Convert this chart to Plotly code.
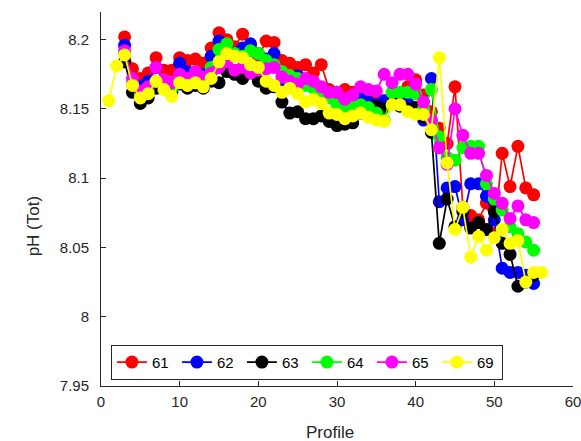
import plotly.graph_objects as go

profiles_a = list(range(3, 56))
profiles_y = list(range(1, 57))

ph_61 = [8.202, 8.179, 8.172, 8.176, 8.187, 8.178, 8.178, 8.187, 8.185, 8.186,
         8.183, 8.194, 8.205, 8.200, 8.195, 8.204, 8.196, 8.188, 8.199, 8.198,
         8.185, 8.183, 8.180, 8.182, 8.176, 8.182, 8.164, 8.162, 8.164, 8.162,
         8.159, 8.158, 8.157, 8.156, 8.157, 8.160, 8.166, 8.171, 8.160, 8.148,
         8.136, 8.125, 8.166, 8.079, 8.073, 8.070, 8.082, 8.060, 8.118, 8.094,
         8.123, 8.093, 8.088]
ph_62 = [8.196, 8.168, 8.166, 8.170, 8.180, 8.170, 8.168, 8.183, 8.177, 8.176,
         8.175, 8.188, 8.199, 8.193, 8.190, 8.194, 8.197, 8.190, 8.186, 8.190,
         8.170, 8.172, 8.174, 8.170, 8.168, 8.165, 8.159, 8.158, 8.157, 8.156,
         8.158, 8.155, 8.153, 8.156, 8.155, 8.156, 8.154, 8.150, 8.142, 8.172,
         8.083, 8.093, 8.094, 8.070, 8.096, 8.096, 8.087, 8.070, 8.035, 8.032,
         8.032, 8.030, 8.024]
ph_63 = [8.184, 8.162, 8.154, 8.158, 8.165, 8.165, 8.162, 8.168, 8.165, 8.167,
         8.165, 8.170, 8.169, 8.177, 8.175, 8.172, 8.176, 8.170, 8.165, 8.166,
         8.155, 8.147, 8.148, 8.143, 8.143, 8.145, 8.141, 8.138, 8.139, 8.140,
         8.147, 8.151, 8.152, 8.150, 8.154, 8.152, 8.150, 8.151, 8.144, 8.133,
         8.053, 8.085, 8.065, 8.076, 8.064, 8.068, 8.063, 8.076, 8.053, 8.045,
         8.022, 8.025, 8.030]
ph_64 = [8.190, 8.168, 8.160, 8.163, 8.170, 8.168, 8.165, 8.172, 8.170, 8.172,
         8.170, 8.180, 8.193, 8.197, 8.190, 8.188, 8.192, 8.190, 8.185, 8.182,
         8.177, 8.174, 8.172, 8.167, 8.165, 8.163, 8.158, 8.153, 8.150, 8.152,
         8.153, 8.151, 8.147, 8.142, 8.162, 8.162, 8.162, 8.161, 8.150, 8.164,
         8.130, 8.115, 8.113, 8.122, 8.123, 8.123, 8.096, 8.085, 8.077, 8.065,
         8.060, 8.054, 8.048]
ph_65 = [8.192, 8.172, 8.163, 8.166, 8.180, 8.171, 8.169, 8.175, 8.172, 8.177,
         8.173, 8.176, 8.180, 8.184, 8.178, 8.180, 8.176, 8.178, 8.179, 8.180,
         8.173, 8.170, 8.168, 8.172, 8.170, 8.166, 8.162, 8.162, 8.157, 8.160,
         8.166, 8.164, 8.163, 8.175, 8.169, 8.175, 8.175, 8.168, 8.155, 8.142,
         8.122, 8.110, 8.150, 8.131, 8.118, 8.118, 8.102, 8.089, 8.082, 8.071,
         8.080, 8.070, 8.068]
ph_69 = [8.156, 8.181, 8.189, 8.167, 8.158, 8.161, 8.170, 8.164, 8.159, 8.169,
         8.167, 8.169, 8.166, 8.172, 8.184, 8.190, 8.188, 8.187, 8.182, 8.180,
         8.170, 8.167, 8.162, 8.165, 8.161, 8.155, 8.157, 8.154, 8.147, 8.146,
         8.143, 8.145, 8.147, 8.144, 8.142, 8.141, 8.153, 8.153, 8.148, 8.146,
         8.146, 8.135, 8.187, 8.111, 8.063, 8.079, 8.043, 8.058, 8.048, 8.057,
         8.063, 8.053, 8.055, 8.025, 8.032, 8.032]

x_ticks = [0, 10, 20, 30, 40, 50, 60]
y_ticks = [7.95, 8.0, 8.05, 8.1, 8.15, 8.2]
y_ticktext = ["7.95", "8", "8.05", "8.1", "8.15", "8.2"]

series = [
    ("61", profiles_a, ph_61, "#FF0000"),
    ("62", profiles_a, ph_62, "#0000FF"),
    ("63", profiles_a, ph_63, "#000000"),
    ("64", profiles_a, ph_64, "#00FF00"),
    ("65", profiles_a, ph_65, "#FF00FF"),
    ("69", profiles_y, ph_69, "#FFFF00"),
]

fig = go.Figure()
for name, xs, ys, col in series:
    fig.add_trace(go.Scatter(
        x=xs, y=ys, name=name, mode="lines+markers",
        line=dict(color=col, width=1.7),
        marker=dict(color=col, size=13, symbol="circle"),
    ))

axis_col = "#262626"
fig.update_layout(
    width=581, height=441,
    margin=dict(l=101, r=8, t=12, b=55, autoexpand=False),
    paper_bgcolor="white", plot_bgcolor="white",
    font=dict(family="Liberation Sans, Arial, sans-serif", size=15, color=axis_col),
    showlegend=True,
    legend=dict(
        orientation="h", x=0.021, y=0.11, xanchor="left", yanchor="top",
        bordercolor=axis_col, borderwidth=1, bgcolor="white",
        font=dict(size=15, color="black"),
        itemwidth=30, tracegroupgap=0,
        entrywidth=20, entrywidthmode="pixels",
    ),
    annotations=[
        dict(text="Profile", xref="paper", yref="paper", x=0.485, y=-0.123,
             xanchor="center", yanchor="middle", showarrow=False,
             font=dict(size=17, color=axis_col)),
        dict(text="pH (Tot)", xref="paper", yref="paper", x=-0.144, y=0.427,
             xanchor="center", yanchor="middle", showarrow=False, textangle=-90,
             font=dict(size=17, color=axis_col)),
    ],
)
fig.update_xaxes(
    range=[0, 60], tickvals=x_ticks, showgrid=False, zeroline=False,
    showline=True, linecolor=axis_col, linewidth=1, automargin=False,
    ticks="inside", ticklen=5, tickcolor=axis_col, ticklabelstandoff=2,
    ticklabeloverflow="allow",
)
fig.update_yaxes(
    range=[7.95, 8.22], tickvals=y_ticks, ticktext=y_ticktext,
    showgrid=False, zeroline=False, automargin=False,
    showline=True, linecolor=axis_col, linewidth=1,
    ticks="inside", ticklen=5, tickcolor=axis_col, ticklabelstandoff=8,
)
fig.write_html(
    "out.html",
    config={"displayModeBar": False},
    post_script="document.body.style.margin='0';document.body.style.overflow='hidden';",
)
